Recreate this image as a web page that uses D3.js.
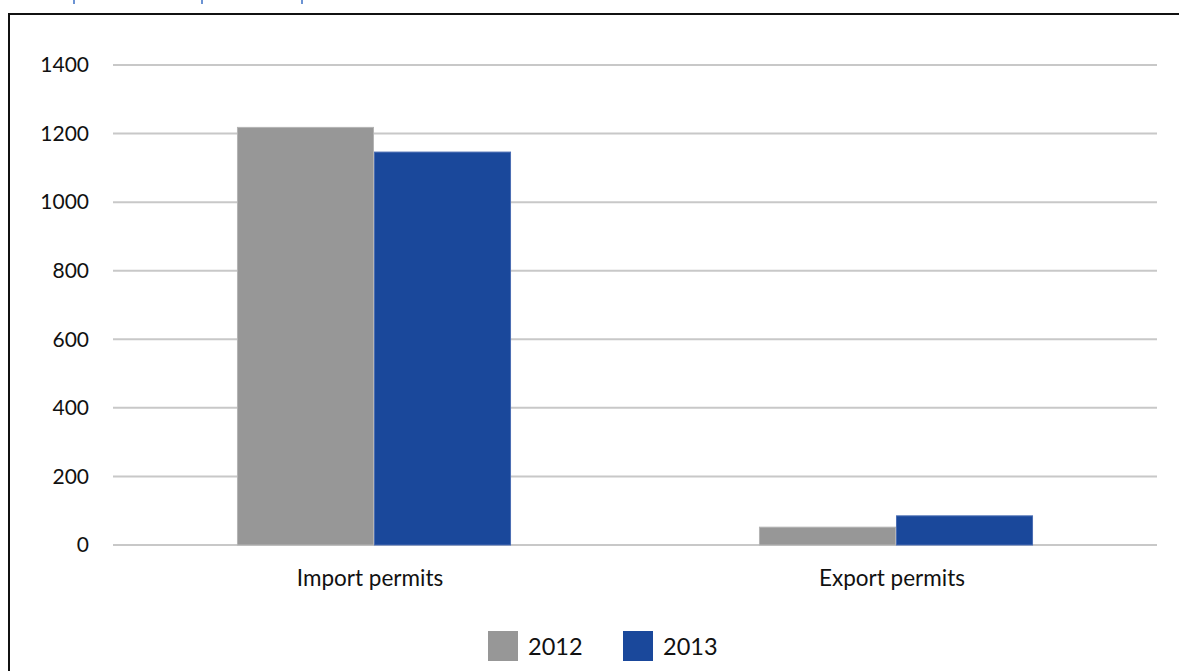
<!DOCTYPE html>
<html>
<head>
<meta charset="utf-8">
<script src="https://cdn.jsdelivr.net/npm/d3@7"></script>
<style>
  html, body { margin: 0; padding: 0; background: #ffffff; }
  svg { display: block; }
  text { font-family: "Lato", "Open Sans", sans-serif; fill: #111111; }
</style>
</head>
<body>
<svg id="chart" width="1179" height="671"></svg>
<script>
// Permit counts by type, 2012 vs 2013
const categories = ["Import permits", "Export permits"];
const years = ["2012", "2013"];
const values2012 = [1218, 52];
const values2013 = [1146, 85];
const yTicks = [0, 200, 400, 600, 800, 1000, 1200, 1400];
const colors = ["#979797", "#1a489b"];
const strokes = ["#b4b4b4", "#4a6db3"];

const series = [values2012, values2013];

const svg = d3.select("#chart");
const W = 1179, H = 671;
const margin = { left: 113, right: 22, top: 65, bottom: 126 };

// Frame around the chart (open on the right and bottom, beyond the page)
svg.append("path")
  .attr("d", `M9,${H + 5} L9,14 L${W + 5},14`)
  .attr("fill", "none")
  .attr("stroke", "#111111")
  .attr("stroke-width", 2);

// Small blue separator marks along the very top edge
svg.selectAll("line.sep")
  .data([74, 202, 302])
  .join("line")
  .attr("class", "sep")
  .attr("x1", d => d).attr("x2", d => d)
  .attr("y1", 0).attr("y2", 4)
  .attr("stroke", "#3a6fc4")
  .attr("stroke-width", 1.5);

const x0 = d3.scaleBand()
  .domain(categories)
  .range([margin.left, W - margin.right])
  .paddingInner(0.475)
  .paddingOuter(0.2375);

const x1 = d3.scaleBand()
  .domain(years)
  .range([0, x0.bandwidth()]);

const y = d3.scaleLinear()
  .domain([0, 1400])
  .range([H - margin.bottom, margin.top]);

// Horizontal gridlines
svg.append("g")
  .selectAll("line")
  .data(yTicks)
  .join("line")
  .attr("x1", margin.left)
  .attr("x2", W - margin.right)
  .attr("y1", d => y(d))
  .attr("y2", d => y(d))
  .attr("stroke", "#c8c8c8")
  .attr("stroke-width", 2);

// Y tick labels
svg.append("g")
  .selectAll("text")
  .data(yTicks)
  .join("text")
  .attr("x", 89)
  .attr("y", d => y(d))
  .attr("dy", "0.35em")
  .attr("text-anchor", "end")
  .attr("font-size", 21)
  .text(d => d);

// Bars
const groups = svg.append("g")
  .selectAll("g")
  .data(categories)
  .join("g")
  .attr("transform", c => `translate(${x0(c)},0)`);

groups.selectAll("rect")
  .data((c, i) => years.map((yr, j) => ({ yr, j, v: series[j][i] })))
  .join("rect")
  .attr("x", d => x1(d.yr) + 0.5)
  .attr("width", x1.bandwidth() - 1)
  .attr("y", d => y(d.v))
  .attr("height", d => y(0) - y(d.v))
  .attr("fill", d => colors[d.j])
  .attr("stroke", d => strokes[d.j])
  .attr("stroke-width", 1);

// Category labels
svg.append("g")
  .selectAll("text")
  .data(categories)
  .join("text")
  .attr("x", c => x0(c) + x0.bandwidth() / 2 - 4)
  .attr("y", 578)
  .attr("dy", "0.35em")
  .attr("text-anchor", "middle")
  .attr("font-size", 22.5)
  .text(c => c);

// Legend
const legendX = [488, 623];
const legend = svg.append("g")
  .selectAll("g")
  .data(years)
  .join("g")
  .attr("transform", (d, i) => `translate(${legendX[i]},631)`);

legend.append("rect")
  .attr("width", 30)
  .attr("height", 30)
  .attr("fill", (d, i) => colors[i]);

legend.append("text")
  .attr("x", 40)
  .attr("y", 16)
  .attr("dy", "0.35em")
  .attr("font-size", 23.5)
  .text(d => d);
</script>
</body>
</html>
